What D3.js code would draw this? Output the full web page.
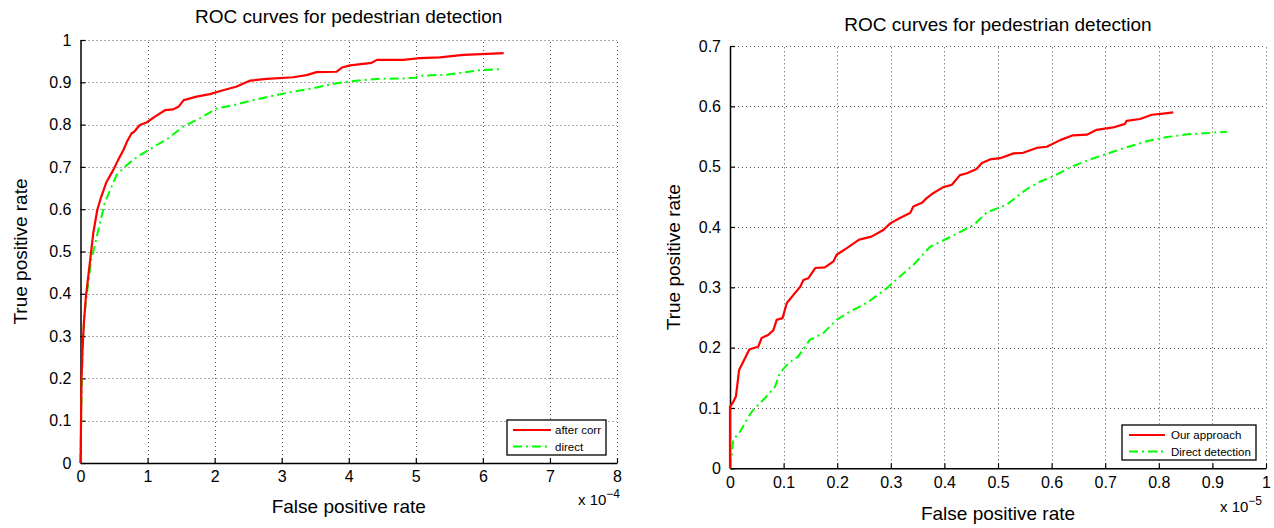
<!DOCTYPE html>
<html><head><meta charset="utf-8">
<script src="https://cdn.jsdelivr.net/npm/d3@7"></script>
<style>
body{margin:0;background:#fff;}
text{font-family:"Liberation Sans",Arial,Helvetica,sans-serif;fill:#000;}
</style></head>
<body><svg id="c" width="1274" height="528"></svg>
<script>
// ---------- data ----------
const chartTitle = "ROC curves for pedestrian detection";
const xLabel = "False positive rate";
const yLabel = "True positive rate";

const leftXTicks = [0,1,2,3,4,5,6,7,8];
const leftYTicks = [0,0.1,0.2,0.3,0.4,0.5,0.6,0.7,0.8,0.9,1];
const leftExponent = "\u22124";
const leftNames = ["after corr","direct"];
// x in units of 1e-4
const leftAfterCorr = [[0,0],[0.005,0.06],[0.01,0.125],[0.015,0.2],[0.03,0.267],[0.05,0.33],[0.08,0.393],[0.115,0.44],[0.15,0.488],[0.19,0.543],[0.25,0.598],[0.31,0.63],[0.39,0.665],[0.49,0.693],[0.56,0.716],[0.64,0.74],[0.70,0.762],[0.76,0.779],[0.80,0.783],[0.885,0.799],[0.985,0.805],[1.11,0.819],[1.26,0.834],[1.38,0.836],[1.46,0.842],[1.54,0.858],[1.73,0.866],[1.93,0.872],[2.10,0.880],[2.33,0.890],[2.53,0.904],[2.78,0.908],[3.17,0.912],[3.37,0.917],[3.52,0.924],[3.82,0.925],[3.90,0.935],[4.02,0.940],[4.34,0.946],[4.42,0.953],[4.81,0.953],[5.06,0.957],[5.36,0.959],[5.71,0.965],[6.06,0.967],[6.31,0.969]];
const leftDirect = [[0,0],[0.01,0.11],[0.02,0.19],[0.035,0.283],[0.06,0.354],[0.11,0.417],[0.16,0.48],[0.21,0.512],[0.29,0.567],[0.36,0.614],[0.44,0.645],[0.54,0.681],[0.66,0.700],[0.78,0.716],[0.93,0.732],[1.08,0.746],[1.31,0.768],[1.53,0.795],[1.78,0.815],[2.03,0.838],[2.28,0.846],[2.58,0.858],[2.87,0.868],[3.17,0.878],[3.47,0.886],[3.82,0.898],[4.14,0.904],[4.42,0.908],[4.81,0.909],[4.99,0.911],[5.11,0.916],[5.46,0.918],[5.71,0.923],[5.91,0.928],[6.26,0.931]];

const rightXTicks = [0,0.1,0.2,0.3,0.4,0.5,0.6,0.7,0.8,0.9,1];
const rightYTicks = [0,0.1,0.2,0.3,0.4,0.5,0.6,0.7];
const rightExponent = "\u22125";
const rightNames = ["Our approach","Direct detection"];
// x in units of 1e-5
const rightOurApproach = [[0,0],[0,0.102],[0.006,0.11],[0.011,0.119],[0.017,0.163],[0.025,0.177],[0.036,0.197],[0.053,0.202],[0.059,0.216],[0.071,0.221],[0.081,0.229],[0.087,0.246],[0.098,0.249],[0.106,0.274],[0.118,0.287],[0.131,0.301],[0.137,0.312],[0.146,0.315],[0.159,0.332],[0.177,0.333],[0.193,0.343],[0.199,0.354],[0.218,0.365],[0.241,0.379],[0.264,0.384],[0.286,0.395],[0.299,0.406],[0.317,0.415],[0.336,0.423],[0.342,0.434],[0.358,0.440],[0.367,0.448],[0.379,0.456],[0.398,0.466],[0.414,0.470],[0.429,0.486],[0.442,0.489],[0.460,0.496],[0.470,0.506],[0.485,0.512],[0.504,0.514],[0.529,0.522],[0.547,0.523],[0.572,0.531],[0.591,0.533],[0.616,0.544],[0.640,0.552],[0.666,0.553],[0.684,0.561],[0.715,0.565],[0.737,0.571],[0.740,0.576],[0.765,0.579],[0.787,0.586],[0.808,0.588],[0.827,0.590]];
const rightDirect = [[0,0],[0.003,0.019],[0.006,0.047],[0.019,0.061],[0.031,0.080],[0.043,0.097],[0.056,0.108],[0.068,0.119],[0.084,0.135],[0.093,0.158],[0.109,0.174],[0.127,0.185],[0.149,0.213],[0.174,0.224],[0.199,0.246],[0.224,0.260],[0.255,0.274],[0.292,0.298],[0.317,0.318],[0.342,0.337],[0.373,0.367],[0.410,0.383],[0.454,0.403],[0.479,0.424],[0.516,0.437],[0.535,0.450],[0.554,0.463],[0.578,0.475],[0.603,0.484],[0.640,0.501],[0.672,0.512],[0.709,0.523],[0.740,0.532],[0.777,0.542],[0.815,0.549],[0.858,0.554],[0.896,0.556],[0.927,0.558]];

// ---------- drawing ----------
const svg = d3.select("#c");
svg.append("rect").attr("width",1274).attr("height",528).attr("fill","#fff");

function panel(cfg){
  const g = svg.append("g");
  const x = d3.scaleLinear().domain(cfg.xDomain).range(cfg.xRange);
  const y = d3.scaleLinear().domain(cfg.yDomain).range(cfg.yRange);
  const [x0,x1] = cfg.xRange, [y0,y1] = cfg.yRange;
  // grid
  const grid = g.append("g").attr("stroke","#555").attr("stroke-width",1).attr("stroke-dasharray","1,3");
  grid.selectAll(".gx").data(cfg.xTicks.slice(1)).join("line")
    .attr("x1",d=>Math.round(x(d))+0.5).attr("x2",d=>Math.round(x(d))+0.5).attr("y1",y0).attr("y2",y1);
  grid.selectAll(".gy").data(cfg.yTicks.slice(1)).join("line")
    .attr("y1",d=>Math.round(y(d))+0.5).attr("y2",d=>Math.round(y(d))+0.5).attr("x1",x0).attr("x2",x1);
  // axes
  const fmt = d=> d===0?"0":String(+d.toFixed(2));
  const ax = g.append("g").attr("transform",`translate(0,${y0})`)
    .call(d3.axisBottom(x).tickValues(cfg.xTicks).tickFormat(fmt).tickSizeInner(-5).tickSizeOuter(0).tickPadding(8));
  const ay = g.append("g").attr("transform",`translate(${x0},0)`)
    .call(d3.axisLeft(y).tickValues(cfg.yTicks).tickFormat(fmt).tickSizeInner(-5).tickSizeOuter(0).tickPadding(9));
  [ax,ay].forEach(a=>{
    a.select(".domain").attr("stroke","#000").attr("stroke-width",1.5);
    a.selectAll(".tick line").attr("stroke","#000").attr("stroke-width",1.2);
    a.selectAll(".tick text").attr("font-size",cfg.tickFont).attr("font-family","Liberation Sans, Arial, sans-serif").attr("fill","#000");
  });
  // curves
  const line = d3.line().x(d=>x(d[0])).y(d=>y(d[1]));
  g.append("path").datum(cfg.s2).attr("d",line).attr("fill","none")
    .attr("stroke","#00ff00").attr("stroke-width",2).attr("stroke-dasharray","9,4,2,4");
  g.append("path").datum(cfg.s1).attr("d",line).attr("fill","none")
    .attr("stroke","#ff0000").attr("stroke-width",2.2).attr("stroke-linejoin","round");
  // title & labels
  const cx = (x0+x1)/2;
  g.append("text").attr("x",cx).attr("y",cfg.titleY).attr("text-anchor","middle").attr("font-size",19).text(chartTitle);
  g.append("text").attr("x",cx).attr("y",cfg.xLabelY).attr("text-anchor","middle").attr("font-size",19).text(xLabel);
  g.append("text").attr("transform",`translate(${cfg.yLabelX},${(y0+y1)/2}) rotate(-90)`).attr("text-anchor","middle").attr("font-size",19).text(yLabel);
  const ex = g.append("text").attr("x",cfg.expX).attr("y",cfg.expY).attr("font-size",15).text("x 10");
  ex.append("tspan").attr("dy",-7).attr("font-size",12).text(cfg.exponent);
  // legend
  const L = cfg.legend;
  const lg = g.append("g");
  lg.append("rect").attr("x",L.x).attr("y",L.y).attr("width",L.w).attr("height",L.h)
    .attr("fill","#fff").attr("stroke","#000").attr("stroke-width",1.3);
  const styles = [{c:"#ff0000",d:null},{c:"#00ff00",d:"9,4,2,4"}];
  cfg.names.forEach((n,i)=>{
    const yy = L.y + L.r0 + i*L.dy;
    lg.append("line").attr("x1",L.x+L.s0).attr("x2",L.x+L.s1).attr("y1",yy).attr("y2",yy)
      .attr("stroke",styles[i].c).attr("stroke-width",2).attr("stroke-dasharray",styles[i].d);
    lg.append("text").attr("x",L.x+L.t0).attr("y",yy).attr("dy","0.35em").attr("font-size",11.5).text(n);
  });
}

panel({xDomain:[0,8],xRange:[80.5,617],yDomain:[0,1],yRange:[463,40],
  xTicks:leftXTicks,yTicks:leftYTicks,s1:leftAfterCorr,s2:leftDirect,names:leftNames,exponent:leftExponent,
  tickFont:16,titleY:23,xLabelY:513,yLabelX:27,expX:578,expY:505,
  legend:{x:507,y:420,w:99,h:35,r0:10,dy:16.5,s0:6,s1:44,t0:48}});

panel({xDomain:[0,1],xRange:[730,1266],yDomain:[0,0.7],yRange:[468.3,46],
  xTicks:rightXTicks,yTicks:rightYTicks,s1:rightOurApproach,s2:rightDirect,names:rightNames,exponent:rightExponent,
  tickFont:16,titleY:31,xLabelY:520,yLabelX:680,expX:1220,expY:512,
  legend:{x:1122,y:425,w:134,h:35,r0:10,dy:16.5,s0:7,s1:43,t0:49}});
</script></body></html>
